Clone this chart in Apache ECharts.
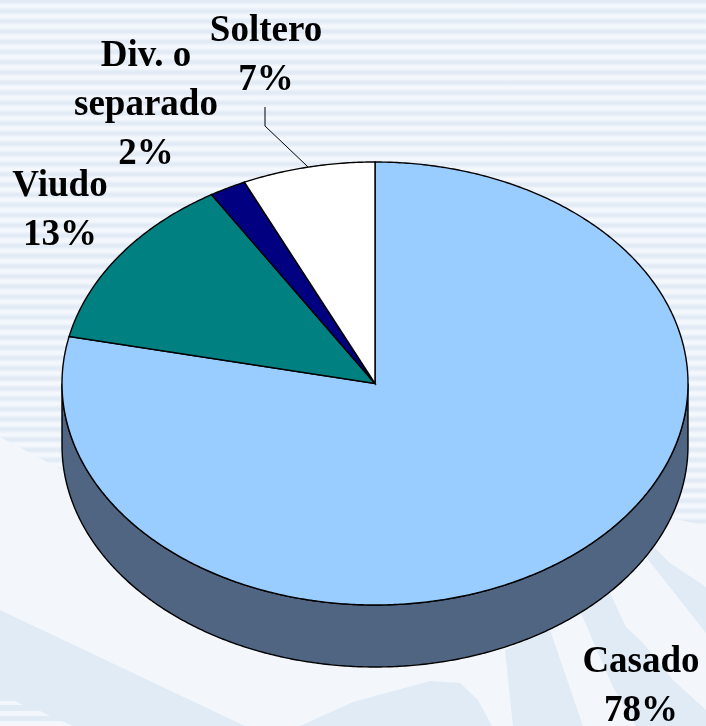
<!DOCTYPE html>
<html>
<head>
<meta charset="utf-8">
<style>
  html, body { margin: 0; padding: 0; background: #f3f7fc; }
  #chart {
    width: 706px; height: 726px;
    background: repeating-linear-gradient(180deg, #e2ebf5 0px, #e2ebf5 2px, #f4f8fd 5px, #f4f8fd 7px, #e2ebf5 10.2px);
  }
</style>
<script src="https://cdn.jsdelivr.net/npm/echarts@6/dist/echarts.min.js"></script>
</head>
<body>
<div id="chart"></div>
<script>
// datos del grafico
var categories = ["Casado", "Viudo", "Div. o\nseparado", "Soltero"];
var values = [78.4, 12.85, 1.9, 6.85];
var sliceColors = ["#99ccff", "#008080", "#000080", "#ffffff"];

// posicion de la elipse
var cx = 375, cy = 383.5, rx = 313, ry = 221.5, depth = 62;
var labelPos = [[641, 638], [60, 162], [146, 32], [266, 7]];
var labelFont = "bold 37px 'Liberation Serif', serif";
var wallColor = "#4f6582";
var pale = "#f3f7fc", soft = "#e1ebf5";

function pt(deg, dy) {
  var a = deg * Math.PI / 180;
  return [cx + rx * Math.sin(a), cy + (dy || 0) - ry * Math.cos(a)];
}
function arc(from, to, dy) {
  var out = [];
  var n = Math.max(2, Math.ceil((to - from) * 2));
  for (var i = 0; i <= n; i++) out.push(pt(from + (to - from) * i / n, dy));
  return out;
}

function bgShape(points, fill) {
  return { type: "polygon", silent: true, z: 0, shape: { points: points }, style: { fill: fill } };
}

var total = values.reduce(function (a, b) { return a + b; }, 0);
var seriesData = [];
var acc = 0;
values.forEach(function (v) {
  seriesData.push([acc, v]);
  acc += v;
});

function renderSlice(params, api) {
  var i = params.dataIndex;
  var from = api.value(0) / total * 360;
  var to = from + api.value(1) / total * 360;
  var children = [];
  // pared lateral, solo la mitad delantera se ve
  var wallFrom = Math.max(from, 90), wallTo = Math.min(to, 270);
  if (wallTo > wallFrom) {
    var top = arc(wallFrom, wallTo, 0);
    var bottom = arc(wallFrom, wallTo, depth).reverse();
    children.push({
      type: "polygon",
      shape: { points: top.concat(bottom) },
      style: { fill: wallColor, stroke: "#000", lineWidth: 1.4 }
    });
  }
  children.push({
    type: "polygon",
    shape: { points: [[cx, cy]].concat(arc(from, to, 0)) },
    style: { fill: sliceColors[i], stroke: "#000", lineWidth: 1.4 }
  });
  // linea guia de Soltero
  if (categories[i] === "Soltero") {
    children.push({
      type: "polyline",
      shape: { points: [[265, 107], [265, 126], pt((from + to) / 2, 0)] },
      style: { fill: "none", stroke: "#000", lineWidth: 1 }
    });
  }
  children.push({
    type: "text",
    z2: 10,
    style: {
      text: categories[i] + "\n" + Math.round(values[i]) + "%",
      x: labelPos[i][0], y: labelPos[i][1],
      font: labelFont, lineHeight: 49,
      textAlign: "center", textVerticalAlign: "top",
      fill: "#000"
    }
  });
  return { type: "group", children: children };
}

var myChart = echarts.init(document.getElementById("chart"));
myChart.setOption({
  animation: false,
  graphic: [
    // fondo claro de la parte baja
    bgShape([[0, 437], [62, 470], [375, 480], [680, 520], [706, 526], [706, 726], [0, 726]], pale),
    bgShape([[0, 610], [245, 726], [0, 726]], soft),
    bgShape([[300, 726], [353, 702], [430, 681], [460, 683], [478, 700], [492, 726]], soft),
    bgShape([[505, 650], [550, 630], [583, 726], [513, 726]], soft),
    bgShape([[581, 613], [610, 593], [626, 627], [643, 643], [673, 680], [706, 710], [706, 726], [636, 726], [613, 687]], soft),
    bgShape([[646, 557], [655, 548], [670, 563], [706, 587], [706, 633]], soft),
    bgShape([[0, 701], [15, 701], [23, 705], [0, 705]], pale),
    bgShape([[0, 711], [40, 711], [50, 716], [0, 716]], pale),
    bgShape([[0, 721], [62, 721], [73, 726], [0, 726]], pale)
  ],
  series: [{
    type: "custom",
    coordinateSystem: "none",
    silent: true,
    z: 5,
    renderItem: renderSlice,
    data: seriesData
  }]
});
</script>
</body>
</html>
